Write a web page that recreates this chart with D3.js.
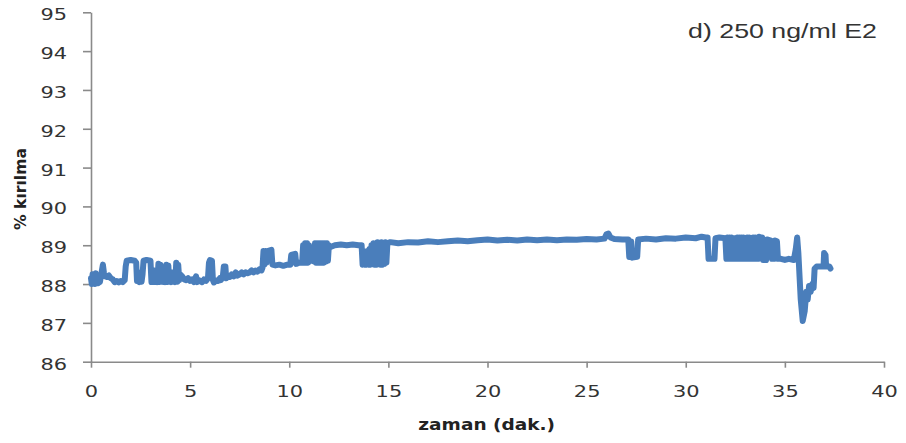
<!DOCTYPE html>
<html>
<head>
	<meta charset="UTF-8">
	<title>250 ng/ml E2</title>
	<script src="https://cdn.jsdelivr.net/npm/d3@7"></script>
	<style>
		body {
			padding: 0;
			margin: 0;
			background: #fff;
		}
	</style>
</head>
<body>
	<script>
		// tick values and texts
		var xTicks = [0, 5, 10, 15, 20, 25, 30, 35, 40],
			yTicks = [86, 87, 88, 89, 90, 91, 92, 93, 94, 95];
		var baslik = "d) 250 ng/ml E2",
			xBaslik = "zaman (dak.)",
			yBaslik = "% kırılma";

		// [zaman (dak.), % kirilma]
		var olcum = [
			[0, 88.15], [0.04, 88.0], [0.08, 88.25], [0.12, 88.02], [0.16, 88.22], [0.2, 88.0],
			[0.24, 88.28], [0.28, 88.05], [0.32, 88.2], [0.36, 88.02], [0.4, 88.15], [0.45, 88.05],
			[0.5, 88.2], [0.55, 88.35], [0.6, 88.5], [0.65, 88.3], [0.7, 88.2], [0.8, 88.18],
			[0.9, 88.22], [1.0, 88.15], [1.1, 88.12], [1.2, 88.05], [1.3, 88.08], [1.4, 88.04],
			[1.5, 88.08], [1.6, 88.05], [1.7, 88.1], [1.75, 88.45], [1.8, 88.6], [2.0, 88.62],
			[2.2, 88.6], [2.28, 88.55], [2.32, 88.08],
			[2.4, 88.3], [2.45, 88.05], [2.5, 88.3], [2.55, 88.06], [2.6, 88.25], [2.65, 88.6],
			[2.8, 88.62], [3.0, 88.6], [3.05, 88.05],
			[3.1, 88.35], [3.15, 88.05], [3.2, 88.35], [3.25, 88.05], [3.3, 88.3], [3.35, 88.05],
			[3.4, 88.52], [3.45, 88.05], [3.5, 88.5], [3.55, 88.06], [3.6, 88.35], [3.65, 88.05],
			[3.7, 88.3], [3.75, 88.05], [3.8, 88.5], [3.85, 88.05], [3.9, 88.48], [3.95, 88.06],
			[4.0, 88.3], [4.05, 88.05], [4.1, 88.3], [4.15, 88.07], [4.2, 88.3], [4.25, 88.05],
			[4.3, 88.55], [4.35, 88.06], [4.4, 88.5], [4.45, 88.1], [4.5, 88.25],
			[4.6, 88.2], [4.7, 88.12], [4.8, 88.1], [4.9, 88.15], [5.0, 88.08], [5.1, 88.12],
			[5.2, 88.05], [5.3, 88.2], [5.35, 88.05], [5.45, 88.1], [5.6, 88.05], [5.7, 88.12],
			[5.8, 88.08], [5.9, 88.15], [5.95, 88.55], [6.0, 88.62], [6.1, 88.6], [6.15, 88.1],
			[6.2, 88.04], [6.3, 88.1], [6.4, 88.08], [6.5, 88.15], [6.55, 88.1], [6.65, 88.2],
			[6.7, 88.45], [6.78, 88.45], [6.82, 88.15], [6.9, 88.2], [7.0, 88.18], [7.1, 88.25],
			[7.2, 88.2], [7.3, 88.3], [7.4, 88.22], [7.5, 88.25], [7.6, 88.3], [7.7, 88.25],
			[7.8, 88.3], [7.9, 88.28], [8.0, 88.3], [8.1, 88.35], [8.2, 88.3], [8.3, 88.35],
			[8.4, 88.32], [8.5, 88.38], [8.6, 88.35], [8.65, 88.42], [8.7, 88.85], [8.75, 88.5],
			[8.8, 88.85], [8.85, 88.55], [8.9, 88.85], [9.1, 88.88], [9.15, 88.5],
			[9.3, 88.48], [9.5, 88.5], [9.7, 88.47], [9.9, 88.5], [10.05, 88.5], [10.1, 88.75],
			[10.3, 88.78], [10.35, 88.52], [10.5, 88.55], [10.65, 88.55],
			[10.7, 89.0], [10.75, 88.55], [10.8, 89.05], [10.85, 88.55], [10.9, 89.05], [10.95, 88.55],
			[11.0, 89.0], [11.05, 88.6], [11.15, 88.6], [11.25, 88.58], [11.3, 89.05], [11.35, 88.55],
			[11.4, 89.05], [11.45, 88.55], [11.5, 89.05], [11.55, 88.55], [11.6, 89.05], [11.65, 88.55],
			[11.7, 89.05], [11.75, 88.55], [11.8, 89.05], [11.85, 88.58], [11.9, 89.05], [11.95, 88.6],
			[12.0, 89.0], [12.05, 88.95],
			[12.3, 89.0], [12.6, 89.02], [12.9, 89.0], [13.2, 89.02], [13.5, 89.0], [13.65, 89.0],
			[13.7, 88.5], [13.75, 88.85], [13.8, 88.5], [13.85, 88.8], [13.9, 88.5], [13.95, 88.85],
			[14.0, 88.5], [14.05, 88.9], [14.1, 88.5], [14.15, 89.0], [14.2, 88.52], [14.25, 89.05],
			[14.3, 88.5], [14.35, 89.05], [14.4, 88.5], [14.45, 89.08], [14.5, 88.52], [14.55, 89.05],
			[14.6, 88.5], [14.65, 89.08], [14.7, 88.5], [14.75, 89.05], [14.8, 88.52], [14.85, 89.08],
			[14.9, 88.55], [14.95, 89.05],
			[15.1, 89.08], [15.5, 89.05], [16.0, 89.08], [16.5, 89.07], [17.0, 89.1], [17.5, 89.08],
			[18.0, 89.1], [18.5, 89.12], [19.0, 89.1], [19.5, 89.13], [20.0, 89.15], [20.5, 89.12],
			[21.0, 89.14], [21.5, 89.12], [22.0, 89.15], [22.5, 89.13], [23.0, 89.15], [23.5, 89.13],
			[24.0, 89.15], [24.5, 89.14], [25.0, 89.16], [25.5, 89.15], [25.9, 89.17], [26.0, 89.28],
			[26.1, 89.3], [26.2, 89.2], [26.4, 89.16], [26.8, 89.15], [27.1, 89.15], [27.15, 88.7],
			[27.25, 89.1], [27.3, 88.68], [27.55, 88.7], [27.6, 89.15], [28.0, 89.17], [28.5, 89.15],
			[29.0, 89.18], [29.5, 89.17], [30.0, 89.2], [30.5, 89.18], [30.8, 89.22], [31.0, 89.2],
			[31.1, 89.2], [31.15, 88.65], [31.45, 88.65], [31.5, 89.18], [31.7, 89.2], [32.0, 89.18],
			[32.05, 88.65], [32.1, 89.2], [32.15, 88.65], [32.2, 89.2], [32.25, 88.65], [32.3, 89.2],
			[32.35, 88.65], [32.4, 89.18], [32.5, 89.18], [32.55, 88.65], [32.6, 89.2], [32.65, 88.65],
			[32.7, 89.2], [32.75, 88.65], [32.8, 89.2], [32.85, 88.65], [32.9, 89.2], [32.95, 88.65],
			[33.0, 89.18], [33.05, 88.65], [33.1, 89.2], [33.15, 88.65], [33.2, 89.2], [33.3, 89.18],
			[33.35, 88.65], [33.4, 89.2], [33.45, 88.65], [33.5, 89.2], [33.55, 88.65], [33.6, 89.2],
			[33.65, 88.65], [33.7, 89.22], [33.8, 89.2], [33.85, 89.2],
			[33.9, 88.62], [34.05, 88.62], [34.1, 89.15], [34.3, 89.12], [34.35, 88.65], [34.45, 88.65],
			[34.5, 89.12], [34.6, 89.1], [34.65, 88.65], [34.8, 88.65], [35.0, 88.62], [35.2, 88.65],
			[35.45, 88.62], [35.55, 88.9], [35.62, 89.2], [35.68, 88.8], [35.8, 87.6], [35.9, 87.05],
			[36.0, 87.3], [36.08, 87.8], [36.15, 87.6], [36.22, 87.95], [36.3, 87.8], [36.38, 88.0],
			[36.45, 87.9], [36.5, 88.4], [36.6, 88.45], [36.8, 88.45], [36.95, 88.45], [36.98, 88.8],
			[37.05, 88.75], [37.08, 88.45], [37.25, 88.45], [37.3, 88.4]
		];

		var w = 906,
			h = 443;

		var svg = d3.select("body").append("svg")
				.attr("width", w)
				.attr("height", h);

		var x = d3.scaleLinear().domain([0, 40]).range([91, 884]);
		var y = d3.scaleLinear().domain([86, 95]).range([361.7, 12.3]);

		// the picture is stretched sideways, so every label gets a fixed width
		var digitW = 13.3;

		var yAxis = svg.append("g")
			.attr("transform", "translate(" + x(0) + ",0)")
			.call(d3.axisLeft(y).tickValues(yTicks).tickSize(8).tickSizeOuter(0).tickFormat(d3.format("d")));

		var xAxis = svg.append("g")
			.attr("transform", "translate(0," + y(86) + ")")
			.call(d3.axisBottom(x).tickValues(xTicks).tickSize(6).tickSizeOuter(0).tickFormat(d3.format("d")));

		[xAxis, yAxis].forEach(function(g) {
			g.select(".domain").attr("stroke", "#8a8a8a").attr("stroke-width", 1.6);
			g.selectAll(".tick line").attr("stroke", "#8a8a8a").attr("stroke-width", 1.6);
			g.selectAll(".tick text")
				.attr("fill", "#333")
				.style("font-family", "'DejaVu Sans', Verdana, sans-serif")
				.style("font-size", "16px")
				.attr("lengthAdjust", "spacingAndGlyphs")
				.attr("textLength", function(d) { return String(d).length * digitW; });
		});

		yAxis.selectAll(".tick text")
			.attr("x", -24)
			.attr("dy", "7.5");
		xAxis.selectAll(".tick text")
			.attr("y", 35.6)
			.attr("dy", 0);

		// series line
		var line = d3.line()
			.x(function(d) { return x(d[0]); })
			.y(function(d) { return y(d[1]); });

		svg.append("path")
			.datum(olcum)
			.attr("d", line)
			.attr("fill", "none")
			.attr("stroke", "#4a7ebb")
			.attr("stroke-width", 6)
			.attr("stroke-linejoin", "round")
			.attr("stroke-linecap", "round");

		// texts
		svg.append("text")
			.attr("x", 688)
			.attr("y", 38.3)
			.attr("fill", "#333")
			.style("font-family", "'Liberation Sans', Arial, sans-serif")
			.style("font-size", "21px")
			.attr("lengthAdjust", "spacingAndGlyphs")
			.attr("textLength", 189)
			.text(baslik);

		svg.append("text")
			.attr("x", 486.7)
			.attr("y", 430)
			.attr("text-anchor", "middle")
			.attr("fill", "#222")
			.style("font-family", "'DejaVu Sans', Verdana, sans-serif")
			.style("font-size", "15px")
			.style("font-weight", "bold")
			.attr("lengthAdjust", "spacingAndGlyphs")
			.attr("textLength", 136.7)
			.text(xBaslik);

		svg.append("text")
			.attr("transform", "translate(25.5,189) rotate(-90)")
			.attr("text-anchor", "middle")
			.attr("fill", "#222")
			.style("font-family", "'DejaVu Sans', Verdana, sans-serif")
			.style("font-size", "15px")
			.style("font-weight", "bold")
			.attr("lengthAdjust", "spacingAndGlyphs")
			.attr("textLength", 82)
			.text(yBaslik);
	</script>
</body>
</html>
